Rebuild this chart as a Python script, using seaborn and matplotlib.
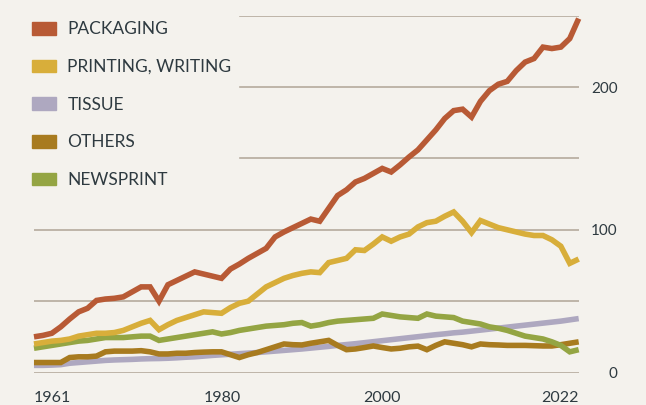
import numpy as np
import pandas as pd
import matplotlib
matplotlib.use("Agg")
import matplotlib.pyplot as plt
from matplotlib.patches import Patch
import seaborn as sns

# values (million tonnes), 1961-2022
years = list(range(1961, 2023))

packaging = [25, 26, 27.5, 32, 37.5, 42.5, 45, 50.5, 51.5, 52,
             53, 56.5, 60, 60, 50, 61.5, 64.5, 67.5, 70.5, 69,
             67.5, 66, 72.5, 76, 80, 83.5, 87, 95, 98.5, 101.5,
             104.5, 107.5, 106, 115, 124, 128, 133.5, 136, 139.5, 143,
             140.5, 145.5, 151, 156, 163, 170, 178, 183.5, 184.5, 179,
             190, 197.5, 202, 204, 211.5, 217.5, 220, 228, 227, 228,
             234, 248]

printing = [20, 21, 22, 22.5, 23.5, 25.5, 26.5, 27.5, 27.5, 28,
            29.5, 32, 34.5, 36.5, 30, 33.5, 36.5, 38.5, 40.5, 42.5,
            42, 41.5, 45.5, 48.5, 50, 55, 60, 63, 66, 68,
            69.5, 70.5, 70, 77, 78.5, 80, 86, 85.5, 90, 95,
            92, 95, 97, 102, 105, 106, 109.5, 112.5, 106, 98,
            106.5, 104, 101.5, 100, 98.5, 97, 96, 96, 93, 88.5,
            76.5, 79.5]

tissue = [5, 5, 5.2, 5.5, 6.5, 7, 7.5, 8, 8.5, 8.8,
          9, 9.2, 9.5, 9.7, 9.8, 10, 10.3, 10.7, 11, 11.5,
          12, 12.4, 12.8, 13.2, 13.6, 14, 14.5, 15, 15.5, 16,
          16.5, 17.1, 17.7, 18.3, 19, 19.6, 20.2, 20.9, 21.6, 22.3,
          23, 23.7, 24.4, 25.1, 25.8, 26.5, 27.1, 27.8, 28.3, 29,
          29.7, 30.4, 31.1, 31.8, 32.5, 33.2, 33.9, 34.6, 35.3, 36,
          36.9, 37.8]

others = [7, 7, 7, 7, 10.5, 11, 11, 11.5, 14.5, 15,
          15, 15, 15.3, 14.5, 13, 13, 13.5, 13.5, 14, 14.3,
          14.5, 14.5, 12.5, 10.5, 12.5, 14, 16, 18, 20, 19.5,
          19.3, 20.5, 21.5, 22.5, 19, 16, 16.5, 17.5, 18.6, 17.5,
          16.5, 17, 18, 18.5, 16, 19, 21.5, 20.5, 19.5, 18,
          20, 19.5, 19.3, 19, 19, 19, 18.8, 18.6, 18.6, 19.5,
          20.5, 21.5]

newsprint = [17, 18, 19, 20, 21, 22, 22.5, 23.5, 24.5, 24.5,
             24.5, 25, 25.5, 25.5, 22.5, 23.5, 24.5, 25.5, 26.5, 27.5,
             28.5, 27, 28, 29.5, 30.5, 31.5, 32.5, 33, 33.5, 34.5,
             35, 32.5, 33.5, 35, 36, 36.5, 37, 37.5, 38, 41,
             40, 39, 38.5, 38, 41, 39.5, 39, 38.5, 36, 35,
             34, 32, 31, 29.5, 27.5, 25.5, 24.5, 23.5, 21.5, 19,
             14.5, 16]

legend_order = ["PACKAGING", "PRINTING, WRITING", "TISSUE", "OTHERS", "NEWSPRINT"]
draw_order = ["TISSUE", "OTHERS", "NEWSPRINT", "PRINTING, WRITING", "PACKAGING"]
colors = {
    "PACKAGING": "#b85a35",
    "PRINTING, WRITING": "#d8ae3a",
    "TISSUE": "#aea8c0",
    "OTHERS": "#a87b1f",
    "NEWSPRINT": "#94a543",
}
series = {"PACKAGING": packaging, "PRINTING, WRITING": printing,
          "TISSUE": tissue, "OTHERS": others, "NEWSPRINT": newsprint}

df = pd.concat([pd.DataFrame({"year": years, "value": v, "category": k})
                for k, v in series.items()], ignore_index=True)

bg = "#f4f2ed"
text_col = "#2e3a40"
grid_col = "#b5aa9d"

sns.set_style("white", {"axes.facecolor": bg, "figure.facecolor": bg})
plt.rcParams["font.family"] = ["Lato", "DejaVu Sans"]

fig = plt.figure(figsize=(6.46, 4.05), dpi=100)
ax = fig.add_axes([0.0526, 0.0802, 0.8432, 0.881])

# gridlines
for g in range(0, 251, 50):
    ax.axhline(g, color=grid_col, lw=1.2, zorder=0)

sns.lineplot(data=df, x="year", y="value", hue="category", hue_order=draw_order,
             palette=colors, lw=4, legend=False, ax=ax)
for line in ax.lines[6:]:
    line.set_clip_on(False)
    line.set_solid_capstyle("butt")
    line.set_solid_joinstyle("miter")

ax.set_xlim(1961, 2022)
ax.set_ylim(0, 250)
for s in ax.spines.values():
    s.set_visible(False)
ax.set_xlabel("")
ax.set_ylabel("")

# y labels on the right
ax.yaxis.tick_right()
ax.set_yticks([0, 100, 200])
ax.set_yticklabels(["0", "100", "200"])
ax.tick_params(axis="y", length=0, pad=28, labelsize=11, labelcolor=text_col)
for lab in ax.get_yticklabels():
    lab.set_horizontalalignment("right")

# x labels
ax.set_xticks([1961, 1980, 2000, 2022])
ax.set_xticklabels(["1961", "1980", "2000", "2022"])
ax.tick_params(axis="x", length=0, pad=13, labelsize=11.5, labelcolor=text_col)
for lab, ha in zip(ax.get_xticklabels(), ["left", "left", "center", "right"]):
    lab.set_horizontalalignment(ha)

handles = [Patch(facecolor=colors[k], edgecolor=colors[k], label=k) for k in legend_order]
leg = fig.legend(handles=handles, loc="upper left", bbox_to_anchor=(0.026, 0.986),
                 frameon=True, fontsize=12.5, handlelength=1.38, handleheight=0.75,
                 handletextpad=0.63, labelspacing=1.25, borderpad=0.4,
                 facecolor=bg, edgecolor=bg, framealpha=1, fancybox=False)
for t in leg.get_texts():
    t.set_color(text_col)

fig.savefig("out.png", dpi=100, facecolor=bg)
